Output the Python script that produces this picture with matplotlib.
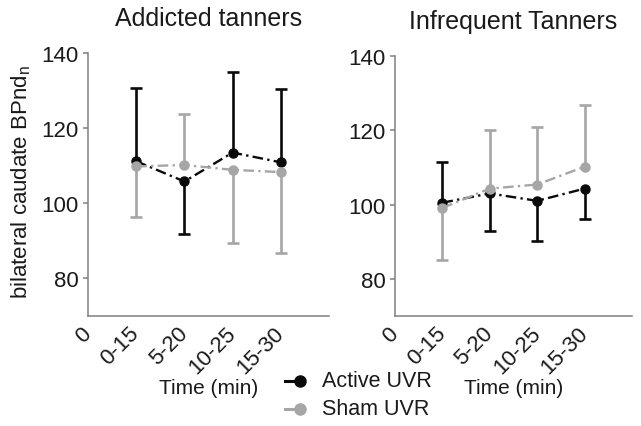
import numpy as np
import matplotlib
matplotlib.use('Agg')
import matplotlib.pyplot as plt
from matplotlib.lines import Line2D

plt.rcParams['font.family'] = ['Liberation Sans', 'DejaVu Sans']
plt.rcParams['mathtext.default'] = 'regular'

# Dados
periodos = ['0', '0-15', '5-20', '10-25', '15-30']
titulos = ['Addicted tanners', 'Infrequent Tanners']

# Addicted tanners
add_ativo = [111.2, 105.8, 113.5, 110.9]
add_ativo_fim = [130.7, 91.8, 134.9, 130.5]
add_sham = [109.8, 110.2, 108.9, 108.3]
add_sham_fim = [96.3, 123.7, 89.3, 86.9]

# Infrequent tanners
inf_ativo = [100.5, 103.0, 101.0, 104.3]
inf_ativo_fim = [111.4, 92.8, 90.2, 96.2]
inf_sham = [99.1, 104.3, 105.4, 110.2]
inf_sham_fim = [85.0, 120.1, 121.0, 126.8]

dados = [(add_ativo, add_ativo_fim, add_sham, add_sham_fim),
         (inf_ativo, inf_ativo_fim, inf_sham, inf_sham_fim)]

preto = '#0a0a0a'
cinza = '#a6a6a6'
cor_eixo = '#808080'
cor_texto = '#1a1a1a'

fig = plt.figure(figsize=(6.41, 4.27), dpi=100)
W, H = 641., 427.
# posicoes em pixels: (x0, x1, topo, base)
caixas = [(88, 329, 54, 317), (395, 632, 57, 317)]

def serie(ax, x, media, fim, cor, z):
    ax.vlines(x, media, fim, color=cor, linewidth=1.9, zorder=z)
    ax.plot(x, fim, linestyle='none', marker='_', markersize=9, markeredgewidth=1.9, color=cor, zorder=z)
    ax.plot(x, media, color=cor, linewidth=1.7, dashes=(4.5, 1.8, 1.0, 1.8),
            marker='o', markersize=6.5, zorder=z + 1)

for k in range(2):
    x0, x1, top, bot = caixas[k]
    ax = fig.add_axes([x0 / W, 1 - bot / H, (x1 - x0) / W, (bot - top) / H])
    ativo, ativo_fim, sham, sham_fim = dados[k]
    x = np.arange(1, len(periodos))
    serie(ax, x, ativo, ativo_fim, preto, 2)
    serie(ax, x, sham, sham_fim, cinza, 4)
    ax.set_xlim(0, 5)
    ax.set_ylim(70, 140)
    ax.set_yticks([80, 100, 120, 140])
    ax.set_xticks(np.arange(len(periodos)))
    ax.set_xticklabels(periodos, rotation=45, ha='right', va='center', rotation_mode='anchor')
    for s in ['top', 'right']:
        ax.spines[s].set_visible(False)
    for s in ['left', 'bottom']:
        ax.spines[s].set_color(cor_eixo)
        ax.spines[s].set_linewidth(1.1)
    ax.tick_params(axis='y', direction='out', length=3.5, width=1.1, color=cor_eixo,
                   labelsize=16, labelcolor=cor_texto, pad=3)
    ax.tick_params(axis='x', length=0, labelsize=16, labelcolor=cor_texto, pad=10)
    ax.set_title(titulos[k], fontsize=18, color=cor_texto, pad=20)
    ax.set_xlabel('Time (min)', fontsize=15, color=cor_texto)
    ax.xaxis.set_label_coords(0.5, -(388 - bot) / (bot - top), transform=ax.transAxes)
    ax.xaxis.label.set_va('center')

fig.text(21 / W, 1 - 182 / H, 'bilateral caudate BPnd$_n$', rotation=90,
         ha='center', va='center', fontsize=16, color=cor_texto)

# Legenda desenhada manualmente (marcador na ponta da linha)
for nome, cor, yp in [('Active UVR', preto, 382), ('Sham UVR', cinza, 410)]:
    yf = 1 - yp / H
    fig.add_artist(Line2D([285 / W, 300 / W], [yf, yf], color=cor, linewidth=2.2,
                          transform=fig.transFigure))
    fig.add_artist(Line2D([300 / W], [yf], color=cor, marker='o', markersize=8,
                          transform=fig.transFigure))
    fig.text(322 / W, yf, nome, ha='left', va='center', fontsize=15.5, color=cor_texto)

fig.savefig('out.png', dpi=100)
